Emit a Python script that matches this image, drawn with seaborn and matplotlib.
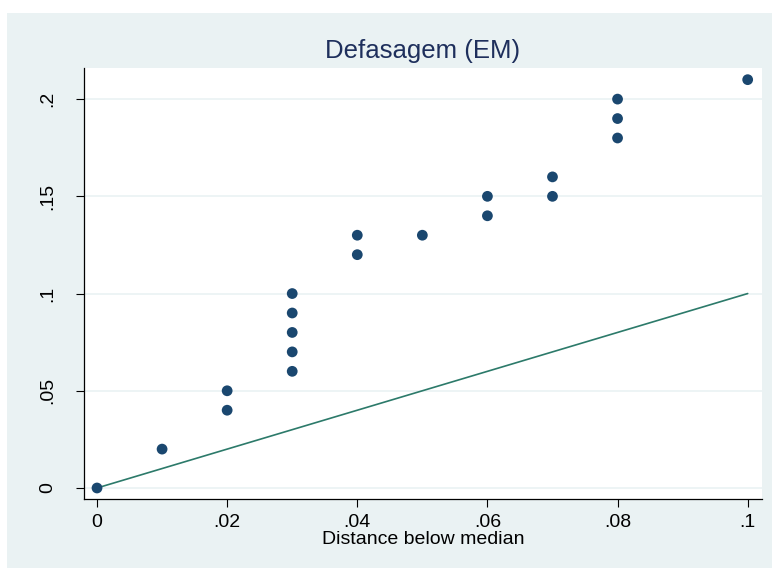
import matplotlib
matplotlib.use("Agg")
import matplotlib.pyplot as plt
import seaborn as sns
import pandas as pd
from matplotlib.patches import Rectangle

# Data (symmetry plot)
dist_below = [0.00, 0.01, 0.02, 0.02, 0.03, 0.03, 0.03, 0.03, 0.03, 0.04,
              0.04, 0.05, 0.06, 0.06, 0.07, 0.07, 0.08, 0.08, 0.08, 0.10]
dist_above = [0.00, 0.02, 0.05, 0.04, 0.10, 0.09, 0.08, 0.07, 0.06, 0.13,
              0.12, 0.13, 0.15, 0.14, 0.16, 0.15, 0.20, 0.19, 0.18, 0.21]
ref_x = [0.0, 0.1]
ref_y = [0.0, 0.1]
x_ticks = [0, 0.02, 0.04, 0.06, 0.08, 0.1]
x_labels = ["0", ".02", ".04", ".06", ".08", ".1"]
y_ticks = [0, 0.05, 0.1, 0.15, 0.2]
y_labels = ["0", ".05", ".1", ".15", ".2"]
title = "Defasagem (EM)"
xlabel = "Distance below median"

sns.set_style("white")
plt.rcParams['font.family'] = ['Liberation Sans', 'DejaVu Sans']

W, H = 772, 568
fig = plt.figure(figsize=(W / 100, H / 100), dpi=100)
fig.patch.set_facecolor("white")
bg = "#EAF2F3"
fig.patches.append(Rectangle((7 / W, 0), 1 - 7 / W, 1 - 13 / H, transform=fig.transFigure,
                             facecolor=bg, edgecolor="none", zorder=-10))

left, right, top, bottom = 84, 762, 68, 499
ax = fig.add_axes([left / W, 1 - bottom / H, (right - left) / W, (bottom - top) / H])
ax.set_facecolor("white")

df = pd.DataFrame({"below": dist_below, "above": dist_above})
ref = pd.DataFrame({"x": ref_x, "y": ref_y})

sns.lineplot(data=ref, x="x", y="y", ax=ax, color="#2C7A6A", linewidth=1.2, zorder=2)
sns.scatterplot(data=df, x="below", y="above", ax=ax, color="#1A476F", s=60,
                edgecolor="none", zorder=3)

ax.set_xlim(-0.002, 0.1022)
ax.set_ylim(-0.00566, 0.216)
ax.set_xticks(x_ticks)
ax.set_xticklabels(x_labels)
ax.set_yticks(y_ticks)
ax.set_yticklabels(y_labels, rotation=90, va="center")
ax.yaxis.grid(True, color="#EAF2F3", linewidth=1.2)
ax.set_axisbelow(True)
for s in ["top", "right"]:
    ax.spines[s].set_visible(False)
for s in ["left", "bottom"]:
    ax.spines[s].set_color("black")
    ax.spines[s].set_linewidth(0.9)
ax.tick_params(axis="both", which="major", direction="out", length=6, width=0.8,
               color="black", labelsize=14, labelcolor="black", pad=4.5,
               left=True, bottom=True)
ax.tick_params(axis="y", pad=14)
ax.set_xlabel(xlabel, fontsize=14, color="black", labelpad=0)
ax.set_ylabel("")
fig.text(0.5 * (left + right) / W, 1 - 58 / H, title, ha="center", va="baseline",
         fontsize=18.5, color="#1E2F5C")

fig.savefig("out.png", dpi=100)
